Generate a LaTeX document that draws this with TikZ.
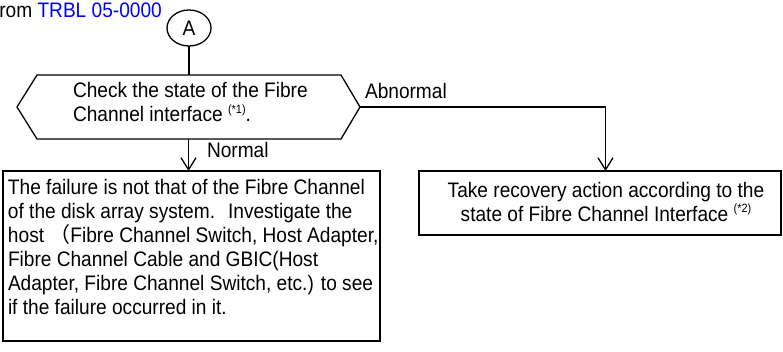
\documentclass[tikz,border=0pt]{standalone}
\usepackage{fontspec}
\setmainfont[FakeStretch=0.91]{Liberation Sans}
\newfontfamily\cjk{Noto Sans CJK JP}
\usetikzlibrary{arrows.meta,shapes.geometric}
\newcommand\noteref[1]{\raisebox{8.5pt}{\fontsize{12}{12}\selectfont(*#1)}}
\begin{document}
\begin{tikzpicture}[x=1pt,y=-1pt,
  every node/.style={font=\fontsize{21}{24}\selectfont, inner sep=0pt, outer sep=0pt},
  conn/.style={line width=1.3pt},
  arr/.style={conn,-{Straight Barb[length=12pt,width=15pt,line width=1.3pt]}},
  boxstyle/.style={draw, line width=1.3pt, rectangle, anchor=north west},
  lbl/.style={anchor=base west}]
\useasboundingbox (0,0) rectangle (783,351);

% source reference
\node[lbl] (src) at (-6,17) {from \textcolor{blue}{TRBL 05-0000}};

% connector circle
\node[draw, ellipse, line width=1.3pt, minimum width=44pt, minimum height=36pt] (A) at (189,28) {A};

% decision hexagon
\node[minimum width=343pt, minimum height=64pt] (chk) at (188.5,107) {};
\draw[conn, line join=miter] (chk.west) -- ([xshift=20pt]chk.north west) -- ([xshift=-19pt]chk.north east)
  -- (chk.east) -- ([xshift=-19pt]chk.south east) -- ([xshift=20pt]chk.south west) -- cycle;
\node[anchor=north west, align=left] (chktext) at (73,82.5) {Check the state of the Fibre\\Channel interface \noteref{1}.};

% boxes
\node[boxstyle, minimum width=377pt, minimum height=170pt] (fail) at (3,171) {};
\node[anchor=north west, align=left] (failtext) at (8,179) {The failure is not that of the Fibre Channel\\
of the disk array system.\hspace{13pt}Investigate the\\
host {\cjk （}Fibre Channel Switch, Host Adapter,\\
Fibre Channel Cable and GBIC(Host\\
Adapter, Fibre Channel Switch, etc.) to see\\
if the failure occurred in it.};

\node[boxstyle, minimum width=362pt, minimum height=64pt] (recov) at (419,171) {};
\node[anchor=north, align=center] (recovtext) at (606,182) {Take recovery action according to the\\state of Fibre Channel Interface \noteref{2}};

% connectors
\draw[conn] (A.south) -- (A.south |- chk.north);
\draw[arr] (chk.south) -- (chk.south |- fail.north);
\draw[arr] (chk.east) -| ([xshift=5.5pt]recov.north);

% labels
\node[lbl] (normal) at (207,157) {Normal};
\node[lbl] (abnormal) at (365,98) {Abnormal};
\end{tikzpicture}
\end{document}
